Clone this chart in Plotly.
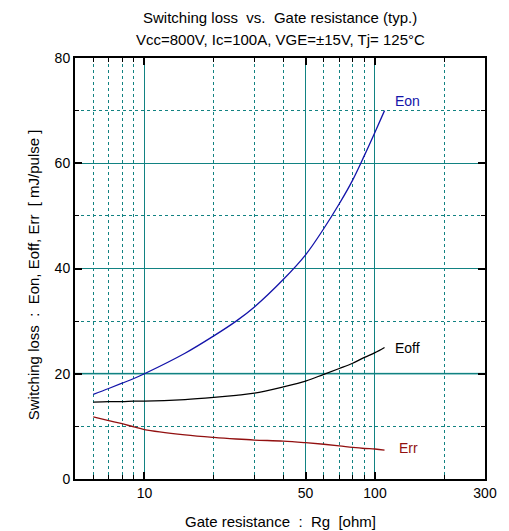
import plotly.graph_objects as go

rg = [6, 7, 8, 9, 10, 15, 20, 25, 30, 40, 50, 60, 70, 80, 90, 100, 110]
eon = [16.1, 17.2, 18.2, 19.1, 20.0, 23.9, 27.2, 30.0, 32.7, 37.9, 42.6, 47.6, 52.3, 56.8, 61.5, 65.9, 70.0]
eoff = [14.6, 14.7, 14.7, 14.8, 14.8, 15.1, 15.5, 15.9, 16.3, 17.5, 18.6, 19.9, 21.0, 22.0, 23.1, 24.0, 25.0]
err = [11.8, 11.1, 10.5, 9.9, 9.4, 8.4, 7.9, 7.6, 7.4, 7.2, 6.9, 6.6, 6.3, 6.0, 5.8, 5.7, 5.5]

x_major = [10, 50, 100, 300]
x_minor = [6, 7, 8, 9, 20, 30, 40, 60, 70, 80, 90, 200]
y_major = [0, 20, 40, 60, 80]
y_minor = [10, 30, 50, 70]

NB = "\u00a0"
title1 = f"Switching loss {NB}vs. {NB}Gate resistance (typ.)"
title2 = "Vcc=800V, Ic=100A, VGE=±15V, Tj= 125°C"
xtitle = f"Gate resistance {NB}: {NB}Rg {NB}[ohm]"
ytitle = f"Switching loss {NB}: {NB}Eon, Eoff, Err {NB}[ mJ/pulse ]"

TEAL = "#128282"
FONT = "Liberation Sans, Arial, sans-serif"

fig = go.Figure()
series = [("Eon", eon, "#1414aa"), ("Eoff", eoff, "#000000"), ("Err", err, "#921010")]
for name, ys, col in series:
    fig.add_trace(go.Scatter(x=rg, y=ys, mode="lines", line=dict(color=col, width=1.3, shape="spline", smoothing=1.0),
                             name=name, showlegend=False))

labels = [("Eon", "#1414aa", 2.078, 71.9), ("Eoff", "#000000", 2.080, 24.9), ("Err", "#921010", 2.095, 5.9)]
for t, col, xl, yl in labels:
    fig.add_annotation(x=xl, xref="x", y=yl, yref="y", text=t, showarrow=False,
                       xanchor="left", yanchor="middle", font=dict(color=col, size=14, family=FONT))

axis_common = dict(showline=True, linecolor="black", linewidth=2, mirror="allticks",
                   ticks="inside", ticklen=7, tickcolor="black", tickwidth=1.5,
                   showgrid=True, gridcolor=TEAL, gridwidth=1, zeroline=False,
                   tickfont=dict(size=14, color="black", family=FONT))

fig.update_xaxes(type="log", range=[0.69897, 2.4771], tickmode="array", tickvals=x_major,
                 ticktext=[str(v) for v in x_major],
                 minor=dict(tickmode="array", tickvals=x_minor, ticks="inside", ticklen=4,
                            tickcolor="black", tickwidth=1, showgrid=True, gridcolor=TEAL,
                            griddash="dot", gridwidth=1),
                 **axis_common)
fig.update_yaxes(range=[0, 80], tickmode="array", tickvals=y_major,
                 minor=dict(tickmode="array", tickvals=y_minor, ticks="inside", ticklen=4,
                            tickcolor="black", tickwidth=1, showgrid=True, gridcolor=TEAL,
                            griddash="dot", gridwidth=1),
                 **axis_common)

# the 20 gridline is drawn lighter and heavier in the reference
fig.add_hline(y=y_major[1], line=dict(color="#74baba", width=2), layer="below")

tfont = dict(size=15, family=FONT, color="black")
fig.add_annotation(x=0.5, xref="paper", y=1, yref="paper", yshift=41, text=title1,
                   showarrow=False, font=tfont, yanchor="middle")
fig.add_annotation(x=0.5, xref="paper", y=1, yref="paper", yshift=19, text=title2,
                   showarrow=False, font=tfont, yanchor="middle")
fig.add_annotation(x=0.5, xref="paper", y=0, yref="paper", yshift=-42, text=xtitle,
                   showarrow=False, font=tfont, yanchor="middle")
fig.add_annotation(x=0, xref="paper", xshift=-42, y=0.484, yref="paper", text=ytitle,
                   showarrow=False, textangle=-90, font=tfont, xanchor="center", yanchor="middle")

# page body has an 8px margin, so the figure is sized/offset to land the plot area where the reference has it
fig.update_layout(width=501, height=523, margin=dict(l=67, r=14, t=50, b=52),
                  plot_bgcolor="white", paper_bgcolor="white", font=dict(family=FONT))
fig.write_html("out.html")
